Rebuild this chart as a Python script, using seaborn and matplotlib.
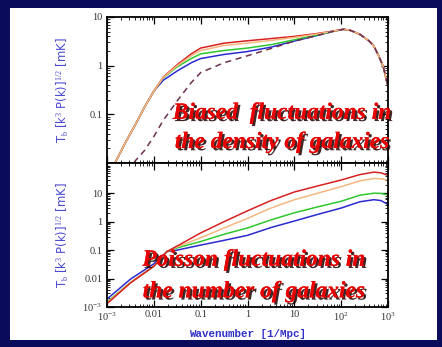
import numpy as np
import pandas as pd
import matplotlib
matplotlib.use("Agg")
import matplotlib.pyplot as plt
import matplotlib.patheffects as pe
from matplotlib.patches import Rectangle
from matplotlib.ticker import LogLocator, NullFormatter
import seaborn as sns

# ---- data: log10 of wavenumber [1/Mpc] and brightness fluctuation [mK] ----
# Upper panel: biased fluctuations in the galaxy density
logk_top = [-3.0, -2.83, -2.6, -2.4, -2.2, -2.0, -1.8, -1.5, -1.2, -1.0, -0.5,
            0.0, 0.5, 1.0, 1.5, 1.8, 2.05, 2.2, 2.4, 2.6, 2.7, 2.8, 2.9, 3.0]
top_blue = [0.006, 0.010, 0.027, 0.060, 0.14, 0.30, 0.50, 0.78, 1.15, 1.40, 1.70,
            1.95, 2.40, 3.20, 4.20, 5.00, 5.60, 5.30, 4.40, 3.20, 2.50, 1.60, 0.95, 0.37]
top_green = [0.006, 0.010, 0.027, 0.060, 0.14, 0.30, 0.56, 0.95, 1.40, 1.75, 2.05,
             2.30, 2.70, 3.40, 4.30, 5.00, 5.60, 5.30, 4.40, 3.20, 2.50, 1.60, 0.95, 0.37]
top_red = [0.006, 0.010, 0.027, 0.060, 0.14, 0.30, 0.58, 1.05, 1.75, 2.30, 2.90,
           3.25, 3.60, 4.00, 4.60, 5.10, 5.60, 5.30, 4.40, 3.20, 2.50, 1.60, 0.95, 0.37]
top_orange = [0.006, 0.010, 0.027, 0.060, 0.14, 0.30, 0.57, 1.00, 1.60, 2.05, 2.60,
              2.90, 3.30, 3.80, 4.50, 5.05, 5.60, 5.30, 4.40, 3.20, 2.50, 1.60, 0.95, 0.37]
top_dashed = [np.nan, np.nan, 0.004, 0.011, 0.018, 0.035, 0.075, 0.19, 0.45, 0.72, 1.15,
              1.60, 2.25, 3.20, 4.20, 5.00, 5.60, 5.30, 4.40, 3.20, 2.50, 1.60, 0.95, 0.37]

# Lower panel: Poisson fluctuations in the number of galaxies
logk_bot = [-3.0, -2.5, -2.0, -1.72, -1.5, -1.0, -0.5, 0.0, 0.5, 1.0, 1.5,
            2.0, 2.4, 2.7, 2.85, 3.0]
bot_blue = [0.0019, 0.0095, 0.033, 0.089, 0.10, 0.15, 0.22, 0.33, 0.62, 1.05, 1.8,
            3.0, 5.0, 5.9, 5.5, 4.0]
bot_green = [0.0015, 0.0072, 0.027, 0.089, 0.12, 0.20, 0.36, 0.60, 1.15, 2.05, 3.3,
             5.2, 8.5, 10.0, 9.8, 8.7]
bot_red = [0.0013, 0.0070, 0.027, 0.089, 0.14, 0.40, 1.00, 2.40, 5.50, 11.0, 18.0,
           29.0, 45.0, 55.0, 52.0, 42.0]
bot_orange = [0.0014, 0.0071, 0.027, 0.089, 0.13, 0.27, 0.60, 1.30, 3.00, 5.90, 10.0,
              17.0, 27.0, 33.0, 32.0, 29.0]

xtick_vals = [1e-3, 1e-2, 1e-1, 1, 10, 1e2, 1e3]
xtick_labels = ["10$^{-3}$", "0.01", "0.1", "1", "10", "10$^{2}$", "10$^{3}$"]
top_ytick_vals = [0.1, 1, 10]
top_ytick_labels = ["0.1", "1", "10"]
bot_ytick_vals = [1e-3, 1e-2, 0.1, 1, 10]
bot_ytick_labels = ["10$^{-3}$", "0.01", "0.1", "1", "10"]

ylabel = r"T$_{\rm b}$ [k$^3$ P(k)]$^{1/2}$ [mK]"
xlabel = "Wavenumber [1/Mpc]"
top_text = ["Biased  fluctuations in", "the density of galaxies"]
bot_text = ["Poisson fluctuations in", "the number of galaxies"]

BLUE = "#2a2ad0"
GREEN = "#2ec82e"
RED = "#d82020"
ORANGE = "#f4b880"
DASH = "#6e3050"

sns.set_style("ticks")
plt.rcParams["mathtext.fontset"] = "custom"
plt.rcParams["mathtext.rm"] = "Liberation Serif"
plt.rcParams["mathtext.it"] = "Liberation Serif:italic"

fig = plt.figure(figsize=(4.42, 3.47), dpi=100)
fig.patch.set_facecolor("#0b0b5c")
fig.patches.append(Rectangle((10 / 442, 7 / 347), 427 / 442, 332 / 347,
                             transform=fig.transFigure, facecolor="white",
                             edgecolor="none", zorder=-10))

ax_top = fig.add_axes([107 / 442, 1 - 163 / 347, 281 / 442, 146 / 347])
ax_bot = fig.add_axes([107 / 442, 1 - 307 / 347, 281 / 442, 144 / 347], sharex=ax_top)

def frame(df, col):
    return pd.DataFrame({"k": 10.0 ** np.array(df), "T": np.array(col, dtype=float)})

lw = 1.1
for col, c in [(top_blue, BLUE), (top_green, GREEN), (top_red, RED), (top_orange, ORANGE)]:
    sns.lineplot(data=frame(logk_top, col), x="k", y="T", ax=ax_top, color=c,
                 lw=lw, estimator=None, sort=False)
sns.lineplot(data=frame(logk_top, top_dashed).dropna(), x="k", y="T", ax=ax_top,
             color=DASH, lw=1.1, estimator=None, sort=False)
ax_top.lines[-1].set_linestyle((0, (4, 3)))

for col, c in [(bot_blue, BLUE), (bot_green, GREEN), (bot_orange, ORANGE), (bot_red, RED)]:
    sns.lineplot(data=frame(logk_bot, col), x="k", y="T", ax=ax_bot, color=c,
                 lw=lw, estimator=None, sort=False)

for ax in (ax_top, ax_bot):
    ax.set_xscale("log")
    ax.set_yscale("log")
    ax.set_xlim(1e-3, 1e3)
    ax.set_facecolor("white")
    for s in ax.spines.values():
        s.set_color("black")
        s.set_linewidth(1.3)
    ax.tick_params(which="both", direction="in", top=True, right=True,
                   colors="black", labelcolor="#333333", labelsize=7.5)
    ax.tick_params(which="major", length=5, width=0.9)
    ax.tick_params(which="minor", length=2.5, width=0.6)
    ax.tick_params(axis="x", pad=2.5)
    ax.xaxis.set_minor_locator(LogLocator(base=10, subs=np.arange(2, 10)))
    ax.yaxis.set_minor_locator(LogLocator(base=10, subs=np.arange(2, 10)))
    ax.xaxis.set_minor_formatter(NullFormatter())
    ax.yaxis.set_minor_formatter(NullFormatter())
    ax.set_xlabel("")
    ax.set_ylabel(ylabel, color="#4a4ad0", fontsize=8.4, family="DejaVu Sans")
    ax.yaxis.set_label_coords(-0.127, 0.5)

ax_top.set_ylim(0.01, 10)
ax_bot.set_ylim(1e-3, 115)
ax_top.set_yticks(top_ytick_vals, top_ytick_labels, family="Liberation Serif")
ax_bot.set_yticks(bot_ytick_vals, bot_ytick_labels, family="Liberation Serif")
ax_bot.set_xticks(xtick_vals, xtick_labels, family="Liberation Serif")
ax_bot.set_xlim(1e-3, 1e3)
ax_top.tick_params(labelbottom=False)
ax_bot.set_xlabel(xlabel, color="#3232c8", fontsize=7.8, family="Liberation Mono",
                  fontweight="bold")
ax_bot.xaxis.set_label_coords(0.5, -0.15)

shadow = [pe.withSimplePatchShadow(offset=(1.6, -1.6), shadow_rgbFace="#200000", alpha=0.85),
          pe.Normal()]
kw = dict(color="#e80000", fontsize=16.9, family="Liberation Serif", fontweight="bold",
          fontstyle="italic", ha="center", va="center", clip_on=False,
          path_effects=shadow, zorder=10)
ax_top.text(0.623, 0.34, top_text[0], transform=ax_top.transAxes, **kw)
ax_top.text(0.623, 0.14, top_text[1], transform=ax_top.transAxes, **kw)
ax_bot.text(0.523, 0.325, bot_text[0], transform=ax_bot.transAxes, **kw)
ax_bot.text(0.523, 0.105, bot_text[1], transform=ax_bot.transAxes, **kw)

fig.savefig("out.png", dpi=100, facecolor=fig.get_facecolor())
